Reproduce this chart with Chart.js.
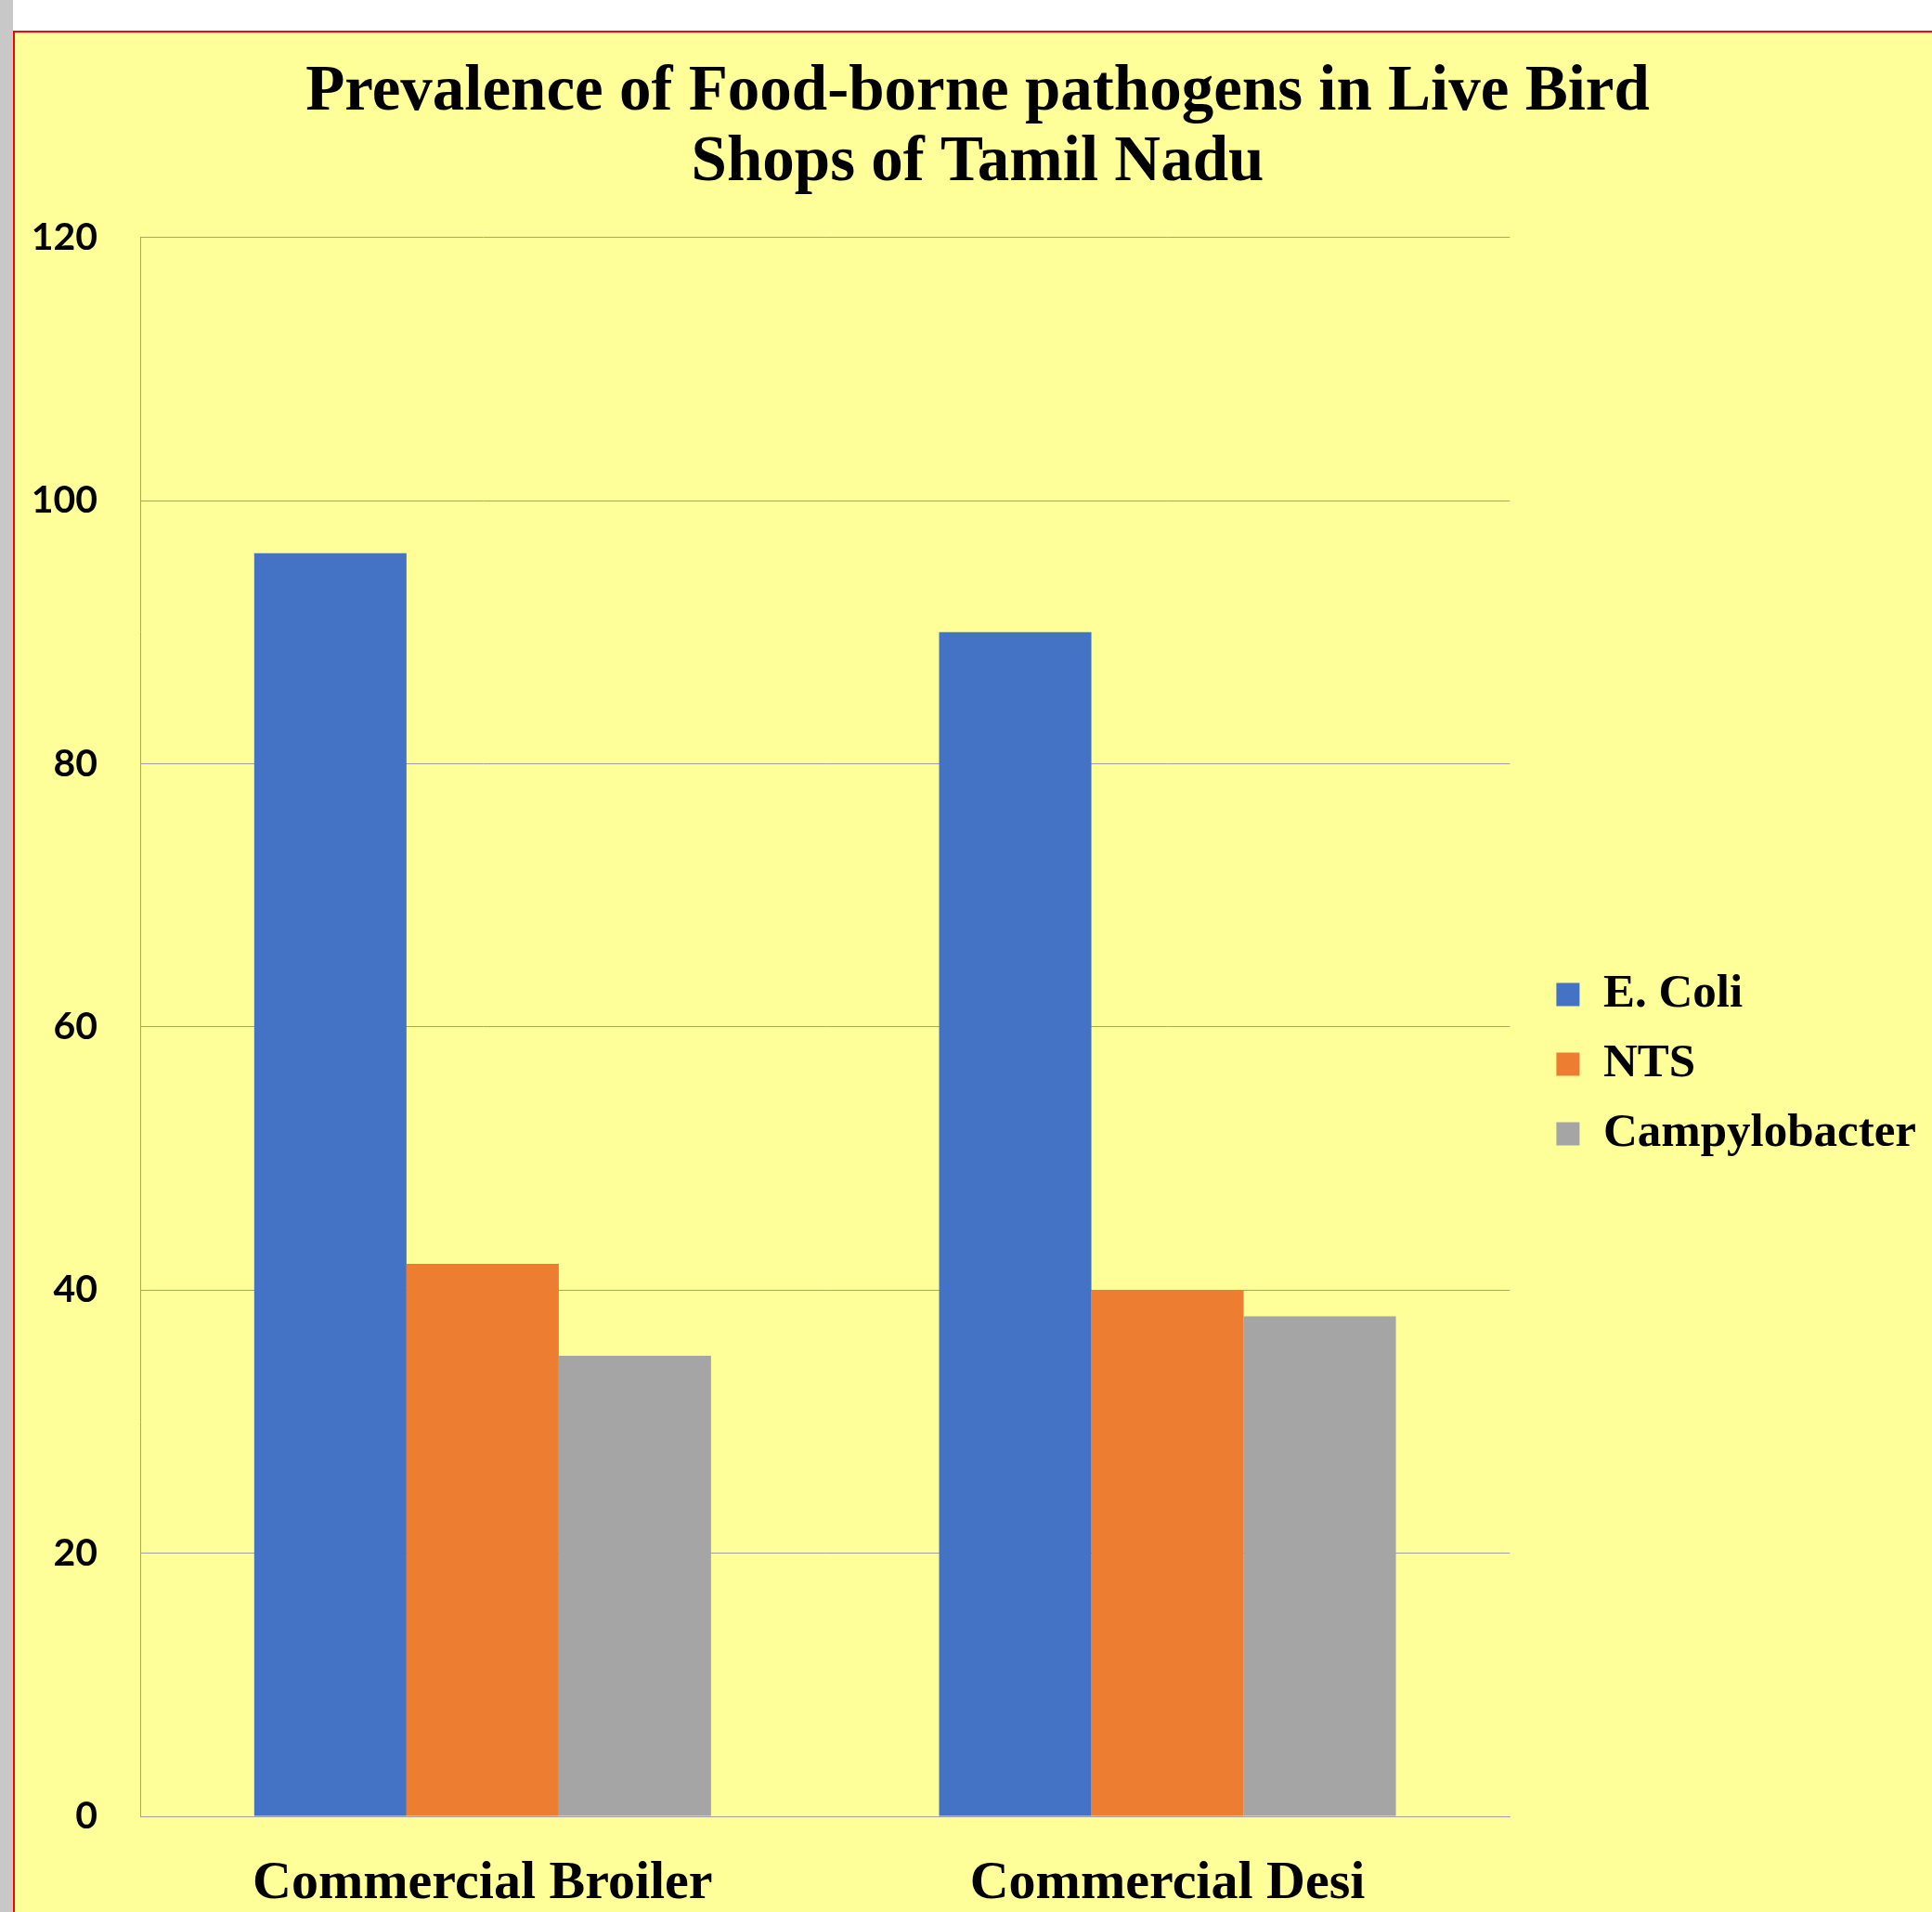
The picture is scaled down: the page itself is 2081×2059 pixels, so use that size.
<!DOCTYPE html>
<html>
<head>
<meta charset="utf-8">
<script src="https://cdn.jsdelivr.net/npm/chart.js@4"></script>
<style>
  html, body { margin: 0; padding: 0; width: 2081px; height: 2059px; overflow: hidden; background: #ffffff; }
  #strip { position: absolute; left: 0; top: 0; width: 14px; height: 2059px; background: #c8c8c8; }
  #frame { position: absolute; left: 14px; top: 33px; width: 2080px; height: 2040px;
           background: #ffff99; border-left: 2px solid #ff0000; border-top: 2px solid #ff0000; }
  #wrap { position: absolute; left: 0; top: 0; width: 2081px; height: 2059px; }
</style>
</head>
<body>
<div id="strip"></div>
<div id="frame"></div>
<div id="wrap"><canvas id="chart"></canvas></div>
<script>
const categories = ['Commercial Broiler', 'Commercial Desi'];
const eColi = [96, 90];
const nts = [42, 40];
const campylobacter = [35, 38];
const seriesNames = ['E. Coli', 'NTS', 'Campylobacter'];
const yTicks = [0, 20, 40, 60, 80, 100, 120];

const serifBold = { family: '"Liberation Serif", "Times New Roman", serif', weight: 'bold' };

let ctx = document.getElementById('chart').getContext('2d');

new Chart(ctx, {
  type: 'bar',
  data: {
    labels: categories,
    datasets: [
      { label: seriesNames[0], data: eColi, backgroundColor: '#4472c4' },
      { label: seriesNames[1], data: nts, backgroundColor: '#ed7d31' },
      { label: seriesNames[2], data: campylobacter, backgroundColor: '#a5a5a5' }
    ]
  },
  options: {
    responsive: true,
    maintainAspectRatio: false,
    animation: false,
    categoryPercentage: 0.667,
    barPercentage: 1.0,
    layout: { padding: { left: 32, right: 7, top: 0, bottom: 0 } },
    plugins: {
      title: {
        display: true,
        text: ['Prevalence of Food-borne pathogens in Live Bird', 'Shops of Tamil Nadu'],
        color: '#000000',
        font: { ...serifBold, size: 69, lineHeight: 1.1 },
        padding: { top: 62, bottom: 42 }
      },
      legend: {
        position: 'right',
        maxWidth: 600,
        // empty title only to push the items down to where they sit in the picture
        title: { display: true, text: '', font: { size: 10, lineHeight: 1.2 }, padding: { top: 110, bottom: 111 } },
        labels: {
          color: '#000000',
          font: { ...serifBold, size: 51 },
          boxWidth: 25,
          boxHeight: 25,
          padding: 24
        }
      },
      tooltip: { enabled: false }
    },
    scales: {
      x: {
        grid: { display: false },
        border: { color: '#a0a0a0', width: 1 },
        ticks: {
          color: '#000000',
          font: { ...serifBold, size: 58 },
          padding: 30
        },
        afterFit: function(scale) { scale.height = 103; }
      },
      y: {
        min: 0,
        max: 120,
        afterBuildTicks: function(scale) { scale.ticks = yTicks.map(v => ({ value: v })); },
        grid: { color: '#a0a0a0', lineWidth: 1, drawTicks: false },
        border: { color: '#a0a0a0', width: 1 },
        ticks: {
          color: '#000000',
          font: { family: 'Lato, "Open Sans", sans-serif', weight: 'bold', size: 41 },
          padding: 46
        },
        afterFit: function(scale) { scale.width = 119; }
      },
      gap: {
        position: 'right',
        display: true,
        grid: { display: false },
        border: { display: false },
        ticks: { display: false },
        afterFit: function(scale) { scale.width = 26; }
      }
    }
  }
});
</script>
</body>
</html>
